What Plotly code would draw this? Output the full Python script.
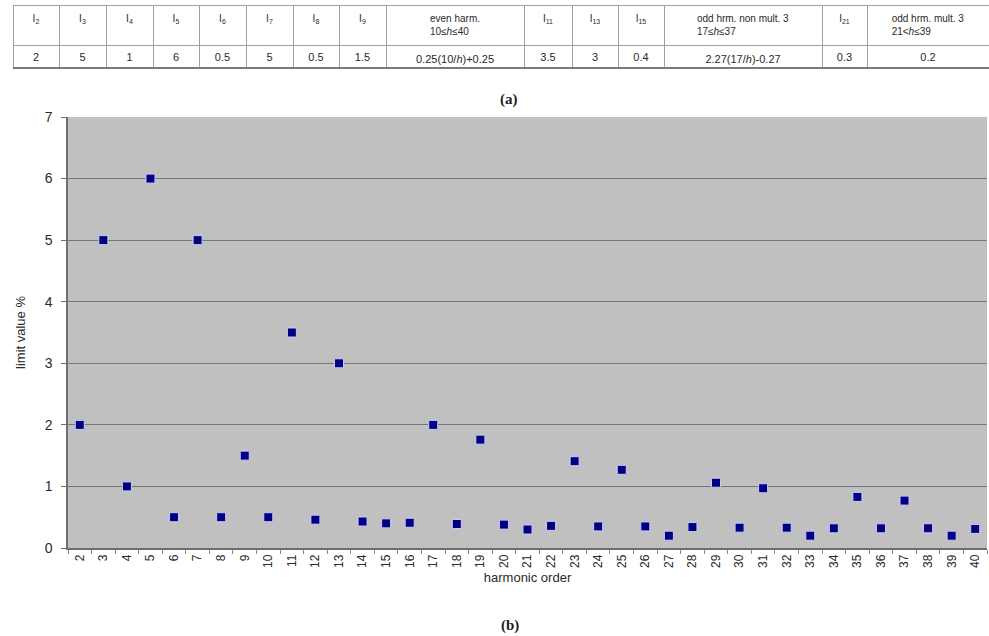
import plotly.graph_objects as go

# ---- data ----
harmonic_order = [2, 3, 4, 5, 6, 7, 8, 9, 10, 11, 12, 13, 14, 15, 16, 17, 18, 19, 20,
                  21, 22, 23, 24, 25, 26, 27, 28, 29, 30, 31, 32, 33, 34, 35, 36, 37, 38, 39, 40]
limit_value = [2.0, 5.0, 1.0, 6.0, 0.5, 5.0, 0.5, 1.5, 0.5, 3.5, 0.46, 3.0, 0.43, 0.4, 0.41,
               2.0, 0.39, 1.76, 0.38, 0.3, 0.36, 1.41, 0.35, 1.27, 0.35, 0.2, 0.34, 1.06,
               0.33, 0.97, 0.33, 0.2, 0.32, 0.83, 0.32, 0.77, 0.32, 0.2, 0.31]

table_headers = ["I<sub>2</sub>", "I<sub>3</sub>", "I<sub>4</sub>", "I<sub>5</sub>",
                 "I<sub>6</sub>", "I<sub>7</sub>", "I<sub>8</sub>", "I<sub>9</sub>",
                 "even harm.<br>10≤<i>h</i>≤40", "I<sub>11</sub>", "I<sub>13</sub>",
                 "I<sub>15</sub>", "odd hrm. non mult. 3<br>17≤<i>h</i>≤37",
                 "I<sub>21</sub>", "odd hrm. mult. 3<br>21&lt;<i>h</i>≤39"]
table_values = ["2", "5", "1", "6", "0.5", "5", "0.5", "1.5", "0.25(10/<i>h</i>)+0.25",
                "3.5", "3", "0.4", "2.27(17/<i>h</i>)-0.27", "0.3", "0.2"]
table_col_widths = [46, 47, 47, 46, 47, 47, 46, 47, 138, 48, 46, 46, 158, 45, 122]

y_ticks = [0, 1, 2, 3, 4, 5, 6, 7]

W, H = 989, 636

fig = go.Figure()

fig.add_trace(go.Table(
    domain=dict(x=[13 / W, 1.0], y=[1 - 70 / H, 1 - 5 / H]),
    columnwidth=table_col_widths,
    header=dict(values=table_headers, height=38, align="center",
                fill_color="white", line=dict(color="#a0a0a0", width=1),
                font=dict(family="Liberation Sans, Arial, sans-serif", size=10, color="#2a2a2a")),
    cells=dict(values=[[v] for v in table_values], height=25, align="center",
               fill_color="white", line=dict(color="#a0a0a0", width=1),
               font=dict(family="Liberation Sans, Arial, sans-serif", size=11, color="#2a2a2a")),
))

fig.add_trace(go.Scatter(
    x=harmonic_order, y=limit_value, mode="markers",
    marker=dict(symbol="square", size=9, color="#000080",
                line=dict(color="#c8c8ff", width=1)),
    showlegend=False, hoverinfo="x+y",
))

fig.update_layout(
    width=W, height=H,
    margin=dict(l=0, r=0, t=0, b=0, autoexpand=False),
    paper_bgcolor="white",
    plot_bgcolor="#c0c0c0",
    font=dict(family="Liberation Sans, Arial, sans-serif", color="#222222"),
    xaxis=dict(
        automargin=False,
        domain=[68 / W, 987 / W],
        range=[1.5, 40.5],
        tickmode="array", tickvals=harmonic_order,
        ticktext=[str(h) for h in harmonic_order],
        tickangle=-90, ticks="", showgrid=False, zeroline=False,
        showline=True, linecolor="#6e6e6e", linewidth=1.5,
        tickfont=dict(size=12, color="#2a2a2a"),
        minor=dict(ticks="outside", tick0=1.5, dtick=1, ticklen=4,
                   tickcolor="#888888", showgrid=False),
        title=dict(text="harmonic order", font=dict(size=13, color="#2a2a2a"), standoff=6),
    ),
    yaxis=dict(
        automargin=False,
        domain=[1 - 548 / H, 1 - 117 / H],
        range=[0, 7],
        tickmode="array", tickvals=y_ticks,
        ticks="outside", ticklen=5, tickcolor="#6e6e6e",
        ticklabelstandoff=6,
        showgrid=True, gridcolor="#767676", gridwidth=1.3,
        zeroline=False,
        showline=True, linecolor="#6e6e6e", linewidth=1.5,
        tickfont=dict(size=14, color="#2a2a2a"),
        title=dict(text="limit value %", font=dict(size=13, color="#2a2a2a"), standoff=16),
    ),
    shapes=[
        dict(type="line", xref="paper", yref="paper", x0=13 / W, x1=1.0,
             y0=1 - 68 / H, y1=1 - 68 / H, line=dict(color="#7a7a7a", width=2)),
    ],
    annotations=[
        dict(text="<b>(a)</b>", x=509 / W, y=1 - 99 / H, xref="paper", yref="paper",
             xanchor="center", yanchor="middle",
             showarrow=False, font=dict(family="Liberation Serif, Times New Roman, serif",
                                        size=15, color="#222222")),
        dict(text="<b>(b)</b>", x=510 / W, y=1 - 625 / H, xref="paper", yref="paper",
             xanchor="center", yanchor="middle",
             showarrow=False, font=dict(family="Liberation Serif, Times New Roman, serif",
                                        size=15, color="#222222")),
    ],
)

fig.write_html("out.html",
               config={"displayModeBar": False},
               post_script="document.body.style.margin='0';document.body.style.overflow='hidden';")
